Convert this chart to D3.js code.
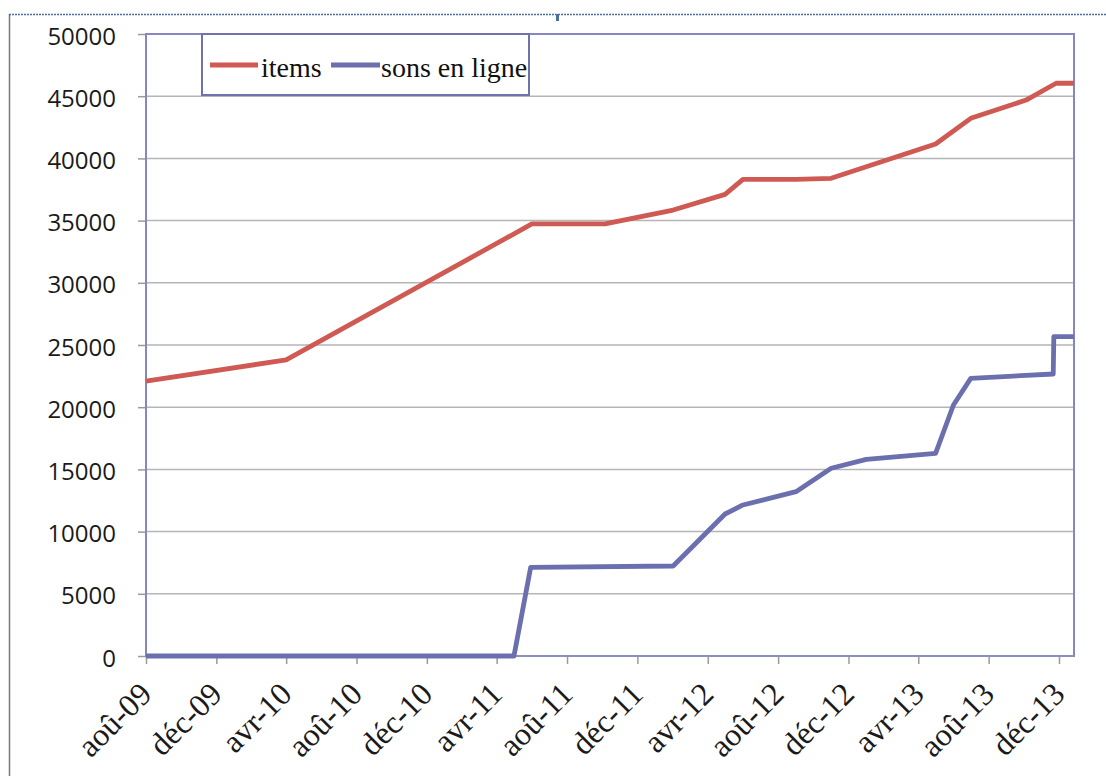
<!DOCTYPE html>
<html>
<head>
<meta charset="utf-8">
<script src="https://cdn.jsdelivr.net/npm/d3@7"></script>
<style>
  html, body { margin: 0; padding: 0; background: #fff; }
  svg { display: block; }
</style>
</head>
<body>
<svg id="chart" width="1106" height="776"></svg>
<script>
// Series: cumulative counts of catalogue items and of sounds available online
const itemsDates  = ["2009-08-01", "2010-04-01", "2011-06-01", "2011-10-06", "2012-02-01", "2012-05-01",
                     "2012-06-01", "2012-09-01", "2012-11-01", "2013-05-01", "2013-07-01", "2013-10-05",
                     "2013-11-26", "2013-12-27"];
const itemsValues = [22100, 23800, 34730, 34730, 35850, 37110,
                     38320, 38320, 38400, 41160, 43220, 44690,
                     46040, 46040];

const sonsDates   = ["2009-08-01", "2011-05-01", "2011-05-30", "2012-02-01", "2012-05-01", "2012-06-01",
                     "2012-09-01", "2012-11-01", "2013-01-01", "2013-05-01", "2013-06-01", "2013-07-01",
                     "2013-11-21", "2013-11-22", "2013-12-27"];
const sonsValues  = [0, 0, 7130, 7235, 11415, 12140,
                     13210, 15090, 15810, 16290, 20180, 22320,
                     22670, 25670, 25670];

const tickLabels  = ["aoû-09", "déc-09", "avr-10", "aoû-10", "déc-10", "avr-11", "aoû-11",
                     "déc-11", "avr-12", "aoû-12", "déc-12", "avr-13", "aoû-13", "déc-13"];
const yTicks      = [0, 5000, 10000, 15000, 20000, 25000, 30000, 35000, 40000, 45000, 50000];

const seriesNames = ["items", "sons en ligne"];
const seriesColors = ["#cf5a53", "#6b6fae"];

const parse = d3.timeParse("%Y-%m-%d");
const svg = d3.select("#chart");

const plot = { left: 146, top: 34, right: 1074, bottom: 656 };

const x = d3.scaleTime()
  .domain([parse("2009-08-01"), parse("2013-12-27")])
  .range([plot.left, plot.right]);

const y = d3.scaleLinear()
  .domain([0, 50000])
  .range([plot.bottom, plot.top]);

// Outer frame of the slide
svg.append("line")
  .attr("x1", 9.5).attr("x2", 9.5).attr("y1", 14).attr("y2", 776)
  .attr("stroke", "#7a7a7a").attr("stroke-width", 1.5);
svg.append("line")
  .attr("x1", 9).attr("x2", 1106).attr("y1", 14.5).attr("y2", 14.5)
  .attr("stroke", "#4d6ea3").attr("stroke-width", 1.5).attr("stroke-dasharray", "2,1");
svg.append("rect")
  .attr("x", 556).attr("y", 14).attr("width", 3).attr("height", 7)
  .attr("fill", "#4d6ea3");

// Horizontal gridlines
svg.append("g")
  .selectAll("line")
  .data(yTicks.filter(v => v > 0 && v < 50000))
  .join("line")
  .attr("x1", plot.left).attr("x2", plot.right)
  .attr("y1", d => y(d)).attr("y2", d => y(d))
  .attr("stroke", "#b5b5b5").attr("stroke-width", 1.5);

// Y axis: ticks and labels
const yAxis = d3.axisLeft(y)
  .tickValues(yTicks)
  .tickSize(8)
  .tickPadding(22)
  .tickFormat(d3.format("d"));
const gy = svg.append("g")
  .attr("transform", `translate(${plot.left},0)`)
  .call(yAxis);
gy.select(".domain").remove();
gy.selectAll(".tick line").attr("stroke", "#9a9a9a").attr("stroke-width", 1.5);
gy.selectAll(".tick text")
  .attr("fill", "#1a1a1a")
  .attr("font-family", "'Open Sans', 'Noto Sans', sans-serif")
  .attr("font-size", 24)
  .attr("dy", "0.42em");

// X axis: ticks every four months, French month labels
const tickDates = d3.timeMonths(parse("2009-08-01"), parse("2013-12-02"), 4);
const xAxis = d3.axisBottom(x)
  .tickValues(tickDates)
  .tickSize(8)
  .tickFormat((d, i) => tickLabels[i]);
const gx = svg.append("g")
  .attr("transform", `translate(0,${plot.bottom})`)
  .call(xAxis);
gx.select(".domain").remove();
gx.selectAll(".tick line").attr("stroke", "#9a9a9a").attr("stroke-width", 1.5);
gx.selectAll(".tick text")
  .attr("fill", "#1a1a1a")
  .attr("font-family", "'Liberation Serif', 'DejaVu Serif', serif")
  .attr("font-size", 32)
  .attr("text-anchor", "end")
  .attr("x", 0).attr("y", 0).attr("dy", 0)
  .attr("transform", "translate(7,40) rotate(-45)");

// Plot area border
svg.append("rect")
  .attr("x", plot.left).attr("y", plot.top)
  .attr("width", plot.right - plot.left).attr("height", plot.bottom - plot.top)
  .attr("fill", "none").attr("stroke", "#8687c2").attr("stroke-width", 2);
svg.append("line")
  .attr("x1", plot.left).attr("x2", plot.right)
  .attr("y1", plot.bottom).attr("y2", plot.bottom)
  .attr("stroke", "#8d8fb8").attr("stroke-width", 2);

// Lines
const line = d3.line()
  .x(d => x(d.date))
  .y(d => y(d.value));

const series = [
  itemsDates.map((d, i) => ({ date: parse(d), value: itemsValues[i] })),
  sonsDates.map((d, i) => ({ date: parse(d), value: sonsValues[i] }))
];

svg.append("g")
  .selectAll("path")
  .data(series)
  .join("path")
  .attr("d", line)
  .attr("fill", "none")
  .attr("stroke", (d, i) => seriesColors[i])
  .attr("stroke-width", 4.8)
  .attr("stroke-linejoin", "round")
  .attr("stroke-linecap", "butt");

// Legend
const legend = svg.append("g");
legend.append("rect")
  .attr("x", 202).attr("y", 34).attr("width", 327).attr("height", 61)
  .attr("fill", "#fff").attr("stroke", "#6f72ad").attr("stroke-width", 2);

const legendItems = [
  { x1: 210, x2: 258, tx: 261 },
  { x1: 331, x2: 380, tx: 381 }
];
legendItems.forEach((it, i) => {
  legend.append("line")
    .attr("x1", it.x1).attr("x2", it.x2)
    .attr("y1", 65).attr("y2", 65)
    .attr("stroke", seriesColors[i]).attr("stroke-width", 4.8);
  legend.append("text")
    .attr("x", it.tx).attr("y", 77)
    .attr("font-family", "'Liberation Serif', 'DejaVu Serif', serif")
    .attr("font-size", 28)
    .attr("fill", "#111")
    .text(seriesNames[i]);
});
</script>
</body>
</html>
